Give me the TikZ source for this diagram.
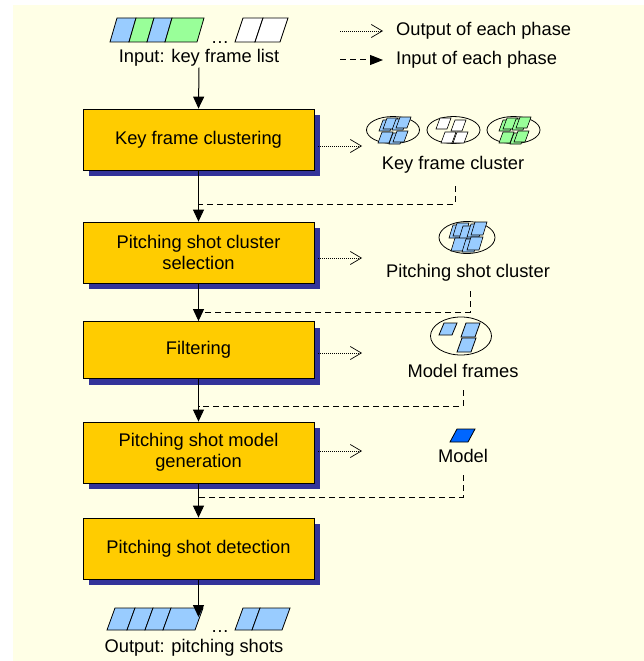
\documentclass[tikz,border=0pt]{standalone}
\usepackage{fontspec}
\setmainfont{Liberation Sans}
\usetikzlibrary{arrows.meta,shadows,shapes.geometric}
\definecolor{bgy}{RGB}{255,255,230}
\definecolor{gold}{RGB}{255,204,0}
\definecolor{shblue}{RGB}{51,51,153}
\definecolor{lblue}{RGB}{153,204,255}
\definecolor{lgreen}{RGB}{153,255,153}
\definecolor{mblue}{RGB}{0,102,255}
% parallelogram: x, y(bottom), width, height, skew, fill
\newcommand\pgcell[6]{\draw[line width=0.8pt,fill=#6] (#1,#2) -- ++(#3,0) -- ++(#5,-#4) -- ++(-#3,0) -- cycle;}
\newcommand\smcell[3]{\draw[line width=0.6pt,fill=#3] (#1,#2) -- ++(11,0) -- ++(4,-11) -- ++(-11,0) -- cycle;}
\newcommand\mdcell[3]{\draw[line width=0.6pt,fill=#3] (#1,#2) -- ++(12,0) -- ++(4,-13) -- ++(-12,0) -- cycle;}
\tikzset{
  phase/.style={draw=black,fill=gold,line width=0.8pt,minimum width=231pt,minimum height=61pt,inner sep=0pt,align=center,
    drop shadow={shadow xshift=6pt,shadow yshift=-6pt,fill=shblue,opacity=1}},
  flow/.style={line width=1pt,-{Triangle[width=11pt,length=12pt]}},
  ret/.style={line width=1pt,dash pattern=on 6pt off 4pt},
  retarr/.style={line width=1pt,dash pattern=on 6pt off 4pt,-{Triangle[width=10pt,length=13pt]}},
  outarr/.style={line width=0.7pt,dash pattern=on 1pt off 1pt,-{Straight Barb[length=11pt,width=13pt]}},
  clus/.style={draw=black,line width=0.8pt,ellipse,inner sep=0pt},
  lbl/.style={inner sep=1pt}
}
\begin{document}
\begin{tikzpicture}[x=1pt,y=-1pt,font=\fontsize{18.3}{21}\selectfont]
\useasboundingbox (0,0) rectangle (644,661);
\fill[bgy] (13,5) rectangle (644,661);

% input frames
\pgcell{110}{42}{19}{24}{7}{lblue}
\pgcell{129}{42}{18}{24}{7}{lgreen}
\pgcell{147}{42}{18}{24}{7}{lblue}
\pgcell{165}{42}{32}{24}{7}{lgreen}
\node[lbl,anchor=base] (indots) at (220,44) {\dots};
\pgcell{235}{42}{20}{24}{8}{white}
\pgcell{255}{42}{25}{24}{8}{white}
\node[lbl] (intext) at (199,58) {Input: key frame list};

% legend
\coordinate (lg1s) at (340,31);
\coordinate (lg1e) at (383,31);
\draw[outarr] (lg1s) -- (lg1e);
\node[lbl,anchor=west] (lg1t) at (395,31) {Output of each phase};
\coordinate (lg2s) at (340,60);
\coordinate (lg2e) at (383,60);
\draw[retarr] (lg2s) -- (lg2e);
\node[lbl,anchor=west] (lg2t) at (395,60) {Input of each phase};

% phases
\node[phase] (b1) at (198.5,139.5) {Key frame clustering};
\node[phase] (b2) at (198.5,252.5) {Pitching shot cluster\\selection};
\node[phase,minimum height=57pt] (b3) at (198.5,350) {Filtering};
\node[phase] (b4) at (198.5,452.5) {Pitching shot model\\generation};
\node[phase] (b5) at (198.5,548.5) {Pitching shot detection};

% main flow
\coordinate (outtip) at (198.5,617);
\draw[flow] (intext.south) -- (b1.north);
\draw[flow] (b1.south) -- (b2.north);
\draw[flow] (b2.south) -- (b3.north);
\draw[flow] (b3.south) -- (b4.north);
\draw[flow] (b4.south) -- (b5.north);

% output frames
\pgcell{107}{630}{20}{22}{8}{lblue}
\pgcell{127}{630}{18}{22}{8}{lblue}
\pgcell{145}{630}{18}{22}{8}{lblue}
\pgcell{163}{630}{32}{22}{8}{lblue}
\node[lbl,anchor=base] (outdots) at (220,632) {\dots};
\pgcell{235}{630}{17}{22}{8}{lblue}
\pgcell{252}{630}{30}{22}{8}{lblue}
\draw[flow] (b5.south) -- (outtip);
\node[lbl] (outtext) at (194,648) {Output: pitching shots};

% output arrows
\coordinate (o1) at (362,146);
\coordinate (o2) at (362,258);
\coordinate (o3) at (362,353);
\coordinate (o4) at (362,451);
\draw[outarr] (b1.east |- o1) ++(4,0) -- (o1);
\draw[outarr] (b2.east |- o2) ++(4,0) -- (o2);
\draw[outarr] (b3.east |- o3) ++(4,0) -- (o3);
\draw[outarr] (b4.east |- o4) ++(4,0) -- (o4);

% key frame clusters
\node[clus,minimum width=53pt,minimum height=27pt] (k1) at (393,130) {};
\node[clus,minimum width=53pt,minimum height=27pt] (k2) at (453.5,130) {};
\node[clus,minimum width=53pt,minimum height=27pt] (k3) at (513.5,130) {};
\smcell{379}{131}{lblue}\smcell{383}{129}{lblue}
\smcell{392}{130}{lblue}\smcell{396}{128}{lblue}
\smcell{378}{143}{lblue}\smcell{389}{144}{lblue}\smcell{393}{142}{lblue}
\smcell{436}{129}{white}\smcell{451}{131}{white}
\smcell{441}{143}{white}\smcell{453}{143}{white}
\smcell{499}{131}{lgreen}\smcell{503}{129}{lgreen}
\smcell{512}{130}{lgreen}\smcell{516}{128}{lgreen}
\smcell{499}{143}{lgreen}\smcell{510}{144}{lgreen}\smcell{514}{142}{lgreen}
\node[lbl] (kfc) at (453,165) {Key frame cluster};

% pitching shot cluster
\node[clus,minimum width=56pt,minimum height=32pt] (pc) at (467,237.5) {};
\mdcell{449}{238}{lblue}\mdcell{453}{236}{lblue}\mdcell{459}{239}{lblue}
\mdcell{467}{237}{lblue}\mdcell{471}{235}{lblue}
\mdcell{451}{251}{lblue}\mdcell{462}{252}{lblue}\mdcell{467}{250}{lblue}
\node[lbl] (psc) at (468,273) {Pitching shot cluster};

% model frames
\node[clus,minimum width=61pt,minimum height=38pt] (mf) at (461,336) {};
\pgcell{439}{335}{13}{12}{5}{lblue}
\pgcell{461}{337}{14}{14}{5}{lblue}
\pgcell{457}{352}{14}{14}{5}{lblue}
\node[lbl] (mft) at (463,371) {Model frames};

% model
\pgcell{450}{442}{18}{13}{7}{mblue}
\node[lbl] (mt) at (463,456) {Model};

% return (input) lines
\coordinate (d1) at (455,186);  \coordinate (j1) at (198.5,204);
\coordinate (d2) at (470,291);  \coordinate (j2) at (198.5,312);
\coordinate (d3) at (463,390);  \coordinate (j3) at (198.5,406);
\coordinate (d4) at (463,475);  \coordinate (j4) at (198.5,497);
\draw[ret] (d1) |- (j1);
\draw[ret] (d2) |- (j2);
\draw[ret] (d3) |- (j3);
\draw[ret] (d4) |- (j4);
\end{tikzpicture}
\end{document}
